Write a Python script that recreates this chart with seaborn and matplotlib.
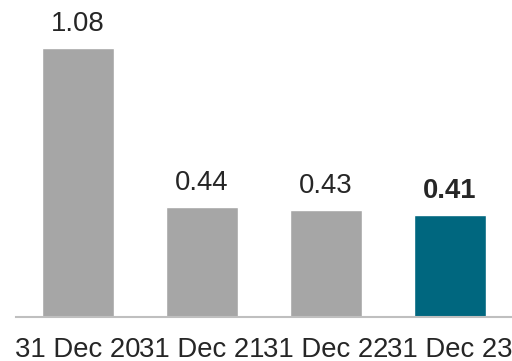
import matplotlib
matplotlib.use("Agg")
import matplotlib.pyplot as plt
import seaborn as sns
import pandas as pd

categories = ["31 Dec 20", "31 Dec 21", "31 Dec 22", "31 Dec 23"]
values = [1.08, 0.44, 0.43, 0.41]
value_labels = ["1.08", "0.44", "0.43", "0.41"]
bar_colors = ["#A6A6A6", "#A6A6A6", "#A6A6A6", "#00677F"]

sns.set_style("white")
plt.rcParams['font.family'] = ['Liberation Sans', 'DejaVu Sans']

df = pd.DataFrame({"date": categories, "value": values})

fig = plt.figure(figsize=(5.12, 3.61), dpi=100)
ax = fig.add_axes([16/512, 1 - 317/361, 1 - 16/512, 317/361])

sns.barplot(data=df, x="date", y="value", hue="date", palette=bar_colors,
            width=0.577, legend=False, ax=ax, saturation=1)

ax.set_xlim(-0.5, 3.5)
ax.set_ylim(0, 1.273)

for i, (v, lab) in enumerate(zip(values, value_labels)):
    ax.annotate(lab, xy=(i, v), xytext=(0, 8), textcoords="offset points",
                ha="center", va="bottom", fontsize=19.8,
                color="#262626", fontweight="bold" if i == 3 else "normal")

for s in ["top", "right", "left"]:
    ax.spines[s].set_visible(False)
ax.spines["bottom"].set_color("#BFBFBF")
ax.spines["bottom"].set_linewidth(1.5)
ax.set_yticks([])
ax.set_xlabel("")
ax.set_ylabel("")
ax.tick_params(axis="x", length=0, pad=14.5, labelsize=19.8, labelcolor="#262626")

fig.savefig("out.png", dpi=100)
